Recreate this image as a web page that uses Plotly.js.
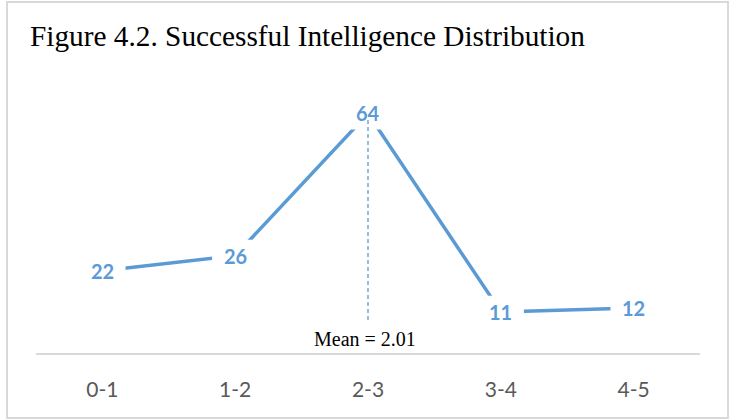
<!DOCTYPE html>
<html>
<head>
<meta charset="utf-8">
<script src="https://cdn.plot.ly/plotly-3.0.1.min.js"></script>
<style>
  html, body { margin: 0; padding: 0; background: #ffffff; }
  #wrap { position: relative; width: 730px; height: 420px; }
  #chart { width: 730px; height: 420px; }
  #frame { position: absolute; left: 6px; top: 1px; width: 723px; height: 418px;
           border: 2px solid #d9d9d9; box-sizing: border-box; pointer-events: none; }
</style>
</head>
<body>
<div id="wrap"><div id="chart"></div><div id="frame"></div></div>
<script>
// ---- data ----
const categories = ["0-1", "1-2", "2-3", "3-4", "4-5"];
const counts = [22, 26, 64, 11, 12];
const titleText = "Figure 4.2. Successful Intelligence Distribution";
const meanLabel = "Mean = 2.01";
const meanCategory = "2-3";

const blue = "#5B9BD5";

const lineTrace = {
  x: categories, y: counts, type: "scatter", mode: "lines",
  line: { color: blue, width: 3.5 },
  hoverinfo: "skip", showlegend: false, cliponaxis: false
};

// white boxes that open gaps in the line around each data label
const gapTrace = {
  x: categories, y: counts, type: "scatter", mode: "markers",
  marker: { symbol: "line-ew", size: 33, color: "#ffffff",
            line: { color: "#ffffff", width: 32 } },
  hoverinfo: "skip", showlegend: false, cliponaxis: false
};

const meanIdx = categories.indexOf(meanCategory);

const labelFont = { family: "Lato, 'Open Sans', sans-serif", size: 20, color: blue, weight: 700 };
const dataLabels = categories.map((c, i) => ({
  text: String(counts[i]), xref: "x", yref: "y", x: i, y: counts[i],
  xanchor: "center", yanchor: "middle", yshift: 0, showarrow: false, font: labelFont
}));

const layout = {
  width: 730, height: 420,
  margin: { l: 36, r: 30, t: 91, b: 67 },
  paper_bgcolor: "rgba(0,0,0,0)", plot_bgcolor: "rgba(0,0,0,0)",
  title: {
    text: titleText,
    font: { family: "'Liberation Serif', 'Times New Roman', serif", size: 29.3, color: "#000000" },
    x: 30 / 730, xref: "container", xanchor: "left",
    y: 1 - 36 / 420, yref: "container", yanchor: "middle"
  },
  xaxis: {
    type: "category", range: [-0.5, 4.5],
    showline: true, linecolor: "#d9d9d9", linewidth: 2,
    ticks: "", showgrid: false, zeroline: false,
    tickfont: { family: "Lato, 'Open Sans', sans-serif", size: 21, color: "#595959" },
    ticklabelstandoff: 17, fixedrange: true
  },
  yaxis: { range: [0, 70], visible: false, showgrid: false, zeroline: false, fixedrange: true },
  shapes: [{
    type: "line", xref: "x", yref: "y", layer: "above",
    x0: meanIdx, x1: meanIdx, y0: 8.8, y1: Math.max(...counts) - 1,
    line: { color: blue, width: 1.3, dash: "4px,3px" }
  }],
  annotations: dataLabels.concat([{
    text: meanLabel, xref: "x", yref: "y", x: meanIdx, y: 0,
    xanchor: "center", yanchor: "bottom", xshift: -3, yshift: 1, showarrow: false,
    font: { family: "'Liberation Serif', 'Times New Roman', serif", size: 20, color: "#000000" }
  }]),
  showlegend: false
};

Plotly.newPlot("chart", [lineTrace, gapTrace], layout, { displayModeBar: false, staticPlot: true });
</script>
</body>
</html>
